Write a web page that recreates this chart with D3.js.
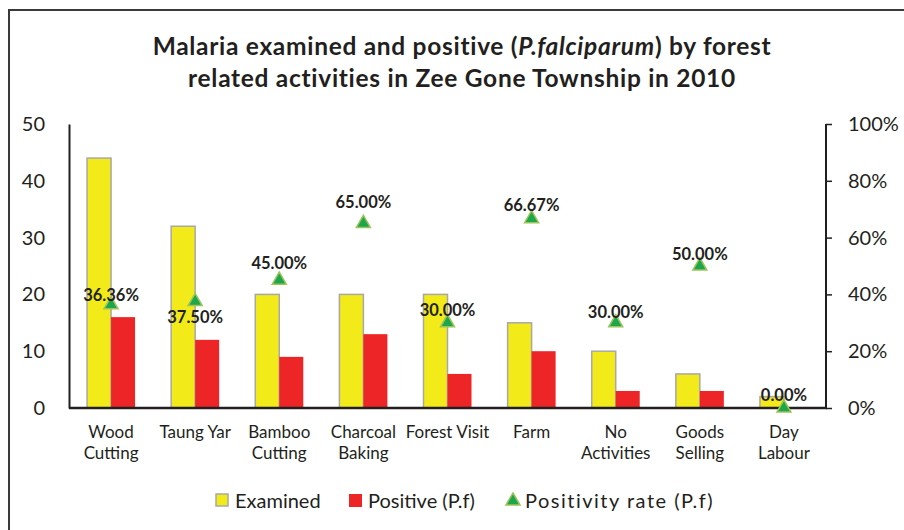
<!DOCTYPE html>
<html>
<head>
<meta charset="utf-8">
<script src="https://cdn.jsdelivr.net/npm/d3@7/dist/d3.min.js"></script>
<style>
  html, body { margin: 0; padding: 0; background: #fff; }
  svg { display: block; }
  text { font-family: Lato, "Open Sans", sans-serif; fill: #231F20; }
</style>
</head>
<body>
<svg id="chart" width="904" height="530"></svg>
<script>
// Activities and counts
const categories = [
  ["Wood", "Cutting"], ["Taung Yar"], ["Bamboo", "Cutting"], ["Charcoal", "Baking"],
  ["Forest Visit"], ["Farm"], ["No", "Activities"], ["Goods", "Selling"], ["Day", "Labour"]
];
const examined = [44, 32, 20, 20, 20, 15, 10, 6, 2];
const positive = [16, 12, 9, 13, 6, 10, 3, 3, 0];
const positivityRate = [36.36, 37.50, 45.00, 65.00, 30.00, 66.67, 30.00, 50.00, 0.00];
const leftTicks = [0, 10, 20, 30, 40, 50];
const rightTicks = [0, 20, 40, 60, 80, 100];

// Vertical nudge of each rate label relative to its marker (px)
const labelNudge = [-10, 15, -17, -21, -13, -14, -11, -12, -13];

const svg = d3.select("#chart");
const W = 904, H = 530;
const plot = { left: 69, right: 826, top: 124, bottom: 408 };

const keys = categories.map(c => c.join(" "));
const x = d3.scaleBand().domain(keys).range([plot.left, plot.right]).padding(0);
const x1 = d3.scaleBand().domain(["examined", "positive"])
  .range([0, x.bandwidth()]).paddingInner(0).paddingOuter(0.752);
const yL = d3.scaleLinear().domain([0, 50]).range([plot.bottom, plot.top]);
const yR = d3.scaleLinear().domain([0, 100]).range([plot.bottom, plot.top]);

// Outer frame
svg.append("path")
  .attr("d", `M9,${H + 5} V10 H${W + 5}`)
  .attr("fill", "none").attr("stroke", "#3a3a3a").attr("stroke-width", 2);

// Title
const title = svg.append("text").attr("text-anchor", "middle")
  .attr("font-weight", "bold").attr("font-size", 24.5).attr("letter-spacing", 0.7);
const t1 = title.append("tspan").attr("x", 462).attr("y", 55);
t1.append("tspan").text("Malaria examined and positive (");
t1.append("tspan").attr("font-style", "italic").text("P.falciparum");
t1.append("tspan").text(") by forest");
title.append("tspan").attr("x", 462).attr("y", 87)
  .text("related activities in Zee Gone Township in 2010");

// Bars
const groups = svg.append("g").selectAll("g").data(keys).join("g")
  .attr("transform", d => `translate(${x(d)},0)`);

groups.append("rect")
  .attr("x", x1("examined")).attr("width", x1.bandwidth())
  .attr("y", (d, i) => yL(examined[i]))
  .attr("height", (d, i) => yL(0) - yL(examined[i]))
  .attr("fill", "#F2EA19").attr("stroke", "#A8A8A8").attr("stroke-width", 1.5);

groups.append("rect")
  .attr("x", x1("positive")).attr("width", x1.bandwidth())
  .attr("y", (d, i) => yL(positive[i]))
  .attr("height", (d, i) => yL(0) - yL(positive[i]))
  .attr("fill", "#EE2527");

// Axes
const axisColor = "#231F20";
const gL = svg.append("g").attr("transform", `translate(${plot.left},0)`)
  .call(d3.axisLeft(yL).tickValues(leftTicks).tickSize(0).tickPadding(24).tickFormat(d3.format("d")));
gL.select(".domain").attr("stroke", axisColor).attr("stroke-width", 2);
gL.selectAll("text").attr("font-size", 20).style("font-family", "Lato, sans-serif").attr("fill", axisColor);

const gR = svg.append("g").attr("transform", `translate(${plot.right},0)`)
  .call(d3.axisRight(yR).tickValues(rightTicks).tickSize(6).tickPadding(16).tickFormat(d => d + "%"));
gR.select(".domain").attr("stroke", axisColor).attr("stroke-width", 2).attr("d", `M0,${plot.top}V${plot.bottom}`);
gR.selectAll(".tick line").attr("stroke", axisColor).attr("stroke-width", 1.5);
gR.selectAll("text").attr("font-size", 20).style("font-family", "Lato, sans-serif").attr("fill", axisColor);

const gB = svg.append("g").attr("transform", `translate(0,${plot.bottom})`)
  .call(d3.axisBottom(x).tickSize(0).tickFormat(""));
gB.select(".domain").attr("stroke", axisColor).attr("stroke-width", 2.5).attr("d", `M${plot.left},0H${plot.right + 1}`);

// Category labels
svg.append("g").selectAll("text").data(categories).join("text")
  .attr("text-anchor", "middle").attr("font-size", 17)
  .attr("x", (d, i) => x(keys[i]) + x.bandwidth() / 2)
  .attr("y", 438)
  .selectAll("tspan").data(d => d).join("tspan")
  .attr("x", function () { return this.parentNode.getAttribute("x"); })
  .attr("dy", (d, j) => j === 0 ? 0 : 21)
  .text(d => d);

// Positivity rate markers
const tri = d3.symbol().type(d3.symbolTriangle).size(85);
const cx = i => x(keys[i]) + x.bandwidth() / 2;
svg.append("g").selectAll("path").data(positivityRate).join("path")
  .attr("d", tri)
  .attr("transform", (d, i) => `translate(${cx(i)},${yR(d)})`)
  .attr("fill", "#1DA64A").attr("stroke", "#9CC45B").attr("stroke-width", 1.5);

// Rate labels
svg.append("g").selectAll("text").data(positivityRate).join("text")
  .attr("text-anchor", "middle").attr("dominant-baseline", "central")
  .attr("font-weight", "bold").attr("font-size", 16.5)
  .attr("x", (d, i) => cx(i))
  .attr("y", (d, i) => yR(d) + labelNudge[i])
  .text(d => d.toFixed(2) + "%");

// Legend
const legend = svg.append("g").attr("transform", "translate(0,500)");
legend.append("rect").attr("x", 216).attr("y", -6).attr("width", 12).attr("height", 12)
  .attr("fill", "#F2EA19").attr("stroke", "#A8A8A8").attr("stroke-width", 1.5);
legend.append("text").attr("x", 235).attr("y", 0).attr("dominant-baseline", "central")
  .attr("font-size", 20).text("Examined");
legend.append("rect").attr("x", 349).attr("y", -6).attr("width", 13).attr("height", 13)
  .attr("fill", "#EE2527");
legend.append("text").attr("x", 368).attr("y", 0).attr("dominant-baseline", "central")
  .attr("font-size", 20).text("Positive (P.f)");
legend.append("path").attr("d", tri).attr("transform", "translate(513,1)")
  .attr("fill", "#1DA64A").attr("stroke", "#9CC45B").attr("stroke-width", 1.5);
legend.append("text").attr("x", 525).attr("y", 0).attr("dominant-baseline", "central")
  .attr("font-size", 20).attr("letter-spacing", 1.5).text("Positivity rate (P.f)");
</script>
</body>
</html>
